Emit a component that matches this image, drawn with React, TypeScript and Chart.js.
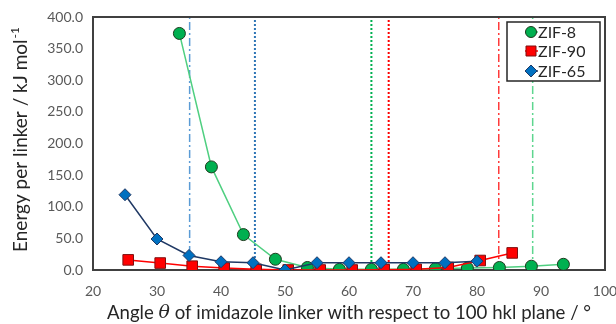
import React, { useEffect, useRef } from "react";
import { Chart, registerables } from "chart.js";

Chart.register(...registerables);

const zif8X = [33.5, 38.5, 43.5, 48.5, 53.5, 58.5, 63.5, 68.5, 73.5, 78.5, 83.5, 88.5, 93.5];
const zif8Y = [374, 163, 56, 17, 4, 1, 1, 1, 2, 3, 4, 6, 9];
const zif90X = [25.5, 30.5, 35.5, 40.5, 45.5, 50.5, 55.5, 60.5, 65.5, 70.5, 75.5, 80.5, 85.5];
const zif90Y = [16, 11, 6, 3, 1, 0, 0, 0, 0.5, 1, 4, 15, 27];
const zif65X = [25, 30, 35, 40, 45, 50, 55, 60, 65, 70, 75, 80];
const zif65Y = [119, 49, 23, 13, 11.5, 0, 11.5, 11.5, 11.5, 11.5, 11.5, 14];

const refLineX = [35.1, 45.3, 63.5, 66.2, 83.4, 88.7];
const refLineColor = ["#5B9BD5", "#2E75B6", "#00B050", "#FF0000", "#FF3B3B", "#5ED68F"];
const refLineStyle = ["dashdot", "dot", "dot", "dot", "dashdot", "dashdot"];

const yTicks = [0, 50, 100, 150, 200, 250, 300, 350, 400];
const xTicks = [20, 30, 40, 50, 60, 70, 80, 90, 100];

const xTitleParts = ["Angle ", "\u03B8", " of imidazole linker with respect to 100 hkl plane / \u00B0"];
const yTitleText = "Energy per linker / kJ mol";
const yTitleSup = "-1";

const FONT = "Lato, 'Open Sans', sans-serif";

const legendItems = [
  { label: "ZIF-8", style: "circle", fill: "#00B050", border: "#1E3A1E", line: "#4FCF80", r: 6 },
  { label: "ZIF-90", style: "rect", fill: "#FF0000", border: "#7F1010", line: "#FF0000", r: 7.5 },
  { label: "ZIF-65", style: "rectRot", fill: "#0070C0", border: "#1F3864", line: "#1F3864", r: 6 },
];

export default function App() {
  const ref = useRef<HTMLCanvasElement>(null);
  useEffect(() => {
    const refSets = refLineX.map((x, i) => ({
      label: "ref" + i,
      data: [
        { x, y: 0 },
        { x, y: 400 },
      ],
      borderColor: refLineColor[i],
      borderWidth: refLineStyle[i] === "dot" ? 2 : 1.5,
      borderDash: refLineStyle[i] === "dot" ? [2, 2] : [8, 3, 2, 3],
      pointRadius: 0,
      showLine: true,
      order: 10,
    }));
    const mk = (xs: number[], ys: number[], it: any, order: number) => ({
      label: it.label,
      data: xs.map((x, i) => ({ x, y: ys[i] })),
      showLine: true,
      borderColor: it.line,
      borderWidth: 1.5,
      pointStyle: it.style,
      pointRadius: it.r,
      pointBackgroundColor: it.fill,
      pointBorderColor: it.border,
      pointBorderWidth: 1,
      order,
    });
    const datasets: any[] = [
      ...refSets,
      mk(zif8X, zif8Y, legendItems[0], 2),
      mk(zif90X, zif90Y, legendItems[1], 1),
      mk(zif65X, zif65Y, legendItems[2], 0),
    ];

    const framePlugin = {
      id: "frame",
      afterDatasetsDraw(chart: any) {
        const { ctx, chartArea: a } = chart;
        ctx.save();
        ctx.strokeStyle = "#404040";
        ctx.lineWidth = 2;
        ctx.beginPath();
        ctx.moveTo(a.left, a.top);
        ctx.lineTo(a.right, a.top);
        ctx.lineTo(a.right, a.bottom);
        ctx.stroke();
        // legend
        const lx = 507, ly = 22, lw = 93, lh = 59;
        ctx.fillStyle = "#FFFFFF";
        ctx.fillRect(lx, ly, lw, lh);
        ctx.strokeStyle = "#262626";
        ctx.lineWidth = 1.5;
        ctx.strokeRect(lx, ly, lw, lh);
        const rows = [32, 51, 71];
        legendItems.forEach((it, i) => {
          const cy = rows[i];
          ctx.strokeStyle = it.line;
          ctx.lineWidth = 1.5;
          ctx.beginPath();
          ctx.moveTo(525, cy);
          ctx.lineTo(538, cy);
          ctx.stroke();
          ctx.fillStyle = it.fill;
          ctx.strokeStyle = it.border;
          ctx.lineWidth = 1;
          ctx.beginPath();
          if (it.style === "circle") {
            ctx.arc(531, cy, 5.5, 0, Math.PI * 2);
          } else if (it.style === "rect") {
            ctx.rect(526, cy - 5, 10, 10);
          } else {
            ctx.moveTo(531, cy - 6);
            ctx.lineTo(537, cy);
            ctx.lineTo(531, cy + 6);
            ctx.lineTo(525, cy);
            ctx.closePath();
          }
          ctx.fill();
          ctx.stroke();
          ctx.fillStyle = "#262626";
          ctx.font = "16px " + FONT;
          ctx.textBaseline = "middle";
          ctx.textAlign = "left";
          ctx.fillText(it.label, 538, cy + 1);
        });

        // x-axis title
        ctx.fillStyle = "#262626";
        ctx.textBaseline = "middle";
        ctx.textAlign = "left";
        const f = "18.6px " + FONT;
        const fi = "italic 19px 'DejaVu Serif', serif";
        ctx.font = f;
        const w0 = ctx.measureText(xTitleParts[0]).width;
        const w2 = ctx.measureText(xTitleParts[2]).width;
        ctx.font = fi;
        const w1 = ctx.measureText(xTitleParts[1]).width;
        let x = (a.left + a.right) / 2 - (w0 + w1 + w2) / 2;
        const ty = 313;
        ctx.font = f;
        ctx.fillText(xTitleParts[0], x, ty);
        x += w0;
        ctx.font = fi;
        ctx.fillText(xTitleParts[1], x, ty);
        x += w1;
        ctx.font = f;
        ctx.fillText(xTitleParts[2], x, ty);

        // y-axis title
        ctx.save();
        ctx.translate(21, 140);
        ctx.rotate(-Math.PI / 2);
        ctx.font = "19px " + FONT;
        const wm = ctx.measureText(yTitleText).width;
        ctx.font = "12px " + FONT;
        const ws = ctx.measureText(yTitleSup).width;
        let sx = -(wm + ws) / 2;
        ctx.font = "19px " + FONT;
        ctx.fillText(yTitleText, sx, 0);
        ctx.font = "12px " + FONT;
        ctx.fillText(yTitleSup, sx + wm + 1, -6);
        ctx.restore();
        ctx.restore();
      },
    };

    const chart = new Chart(ref.current!, {
      type: "scatter",
      data: { datasets },
      plugins: [framePlugin],
      options: {
        animation: false,
        responsive: false,
        layout: { padding: { top: 17, right: 11, left: 0, bottom: 0 } },
        plugins: { legend: { display: false }, tooltip: { enabled: false } },
        scales: {
          x: {
            type: "linear",
            min: 20,
            max: 100,
            afterBuildTicks: (s: any) => {
              s.ticks = xTicks.map((v) => ({ value: v }));
            },
            afterFit: (s: any) => {
              s.height = 54;
              s.paddingRight = 0;
              s.paddingLeft = 0;
            },
            grid: { display: false, drawTicks: false },
            border: { display: true, color: "#404040", width: 2 },
            ticks: { color: "#595959", font: { family: FONT, size: 14 }, padding: 13 },
            title: { display: false },
          },
          y: {
            type: "linear",
            min: 0,
            max: 400,
            afterBuildTicks: (s: any) => {
              s.ticks = yTicks.map((v) => ({ value: v }));
            },
            afterFit: (s: any) => {
              s.width = 93;
              s.paddingTop = 0;
              s.paddingBottom = 0;
            },
            grid: { display: false, drawTicks: false },
            border: { display: true, color: "#404040", width: 2 },
            ticks: {
              color: "#595959",
              font: { family: FONT, size: 14 },
              padding: 10,
              callback: (v: any) => Number(v).toFixed(1),
            },
            title: { display: false },
          },
        },
      },
    } as any);
    return () => chart.destroy();
  }, []);
  return (
    <div style={{ position: "fixed", left: 0, top: 0, width: 616, height: 324, background: "#fff" }}>
      <canvas ref={ref} width={616} height={324} style={{ display: "block" }} />
    </div>
  );
}
